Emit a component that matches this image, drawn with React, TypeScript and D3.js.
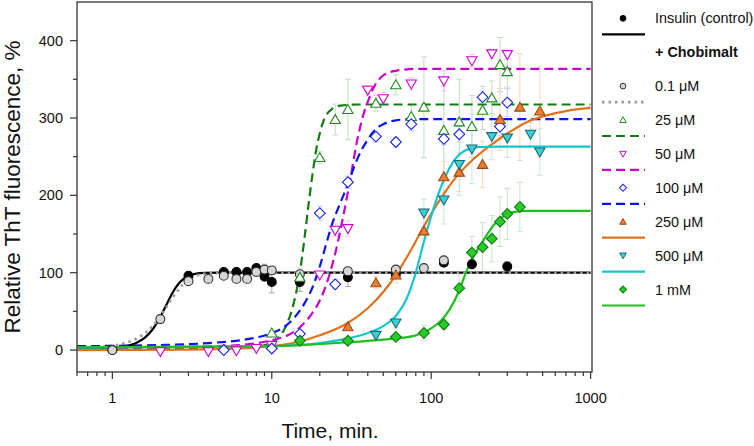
import React from 'react';
import * as d3 from 'd3';

// measured points: [time (min), ThT %, error]
const insulinPts = [
  [1, 0, 2], [3, 96, 3], [5, 101, 3], [6, 101, 4], [7, 101, 3], [8, 106, 4], [9, 95, 6],
  [10, 88, 14], [15, 88, 12], [30, 94, 12], [60, 98, 5], [120, 113, 5], [180, 111, 5], [300, 108, 6],
];
const c01Pts = [
  [1, 0, 2], [2, 40, 3], [3, 89, 3], [4, 92, 3], [5, 96, 3], [6, 92, 3], [7, 92, 3], [8, 101, 5],
  [9, 104, 7], [10, 103, 4], [15, 98, 5], [30, 102, 4], [60, 104, 5], [90, 106, 4], [120, 116, 4],
];
const c25Pts = [
  [10, 22, 3], [15, 94, 12], [20, 249, 8], [25, 298, 20], [30, 311, 39], [45, 319, 10], [60, 343, 13],
  [75, 302, 15], [90, 314, 65], [120, 284, 57], [150, 295, 55], [180, 289, 40], [210, 310, 25],
  [240, 326, 22], [270, 369, 35], [300, 360, 20],
];
const c50Pts = [
  [2, -2, 2], [4, -2, 2], [6, -1, 2], [8, 2, 2], [10, 6, 3], [20, 97, 5], [25, 155, 8], [30, 157, 10],
  [40, 336, 6], [50, 325, 8], [75, 344, 8], [120, 348, 13], [180, 374, 8], [240, 383, 6], [300, 382, 6],
];
const c100Pts = [
  [5, 0, 2], [10, 2, 3], [15, 21, 4], [20, 177, 9], [25, 85, 6], [30, 217, 8], [45, 276, 6],
  [60, 269, 6], [75, 292, 8], [120, 273, 8], [150, 279, 10], [210, 327, 14], [270, 289, 12], [300, 320, 18],
];
const c250Pts = [
  [30, 30, 4], [45, 87, 8], [60, 97, 10], [90, 154, 10], [120, 224, 20], [150, 230, 25],
  [210, 240, 30], [270, 298, 40], [360, 314, 69], [480, 309, 58],
];
const c500Pts = [
  [45, 19, 4], [60, 35, 6], [90, 177, 18], [120, 194, 31], [150, 240, 40], [180, 260, 45],
  [240, 276, 30], [300, 274, 25], [420, 279, 15], [480, 256, 30],
];
const c1000Pts = [
  [15, 12, 3], [30, 12, 3], [60, 17, 4], [90, 22, 10], [120, 33, 6], [150, 80, 17], [180, 126, 21],
  [210, 133, 32], [240, 144, 30], [270, 166, 32], [300, 176, 33], [360, 185, 32],
];

// fitted curves: [time, ThT %]
const insulinFit = [
  [0.6, 0.6], [1, 2.4], [1.2, 4.6], [1.4, 8.8], [1.6, 16], [1.8, 27.5], [2, 43], [2.2, 60], [2.4, 75],
  [2.6, 85.7], [2.8, 92], [3, 96], [3.3, 98.5], [3.8, 99.7], [5, 100], [1000, 100],
];
const c01Fit = [
  [0.6, 2.1], [1, 5.6], [1.2, 9], [1.4, 14.3], [1.6, 21.7], [1.8, 31.6], [2, 43.5], [2.2, 56.5],
  [2.4, 68.4], [2.6, 78], [2.8, 85.7], [3, 91], [3.3, 95.6], [3.6, 97.9], [4, 99.2], [5, 99.9], [1000, 100],
];
const c25Fit = [
  [0.6, 1.5], [5, 2], [8, 4], [10, 10], [11, 16], [12, 27], [13, 44], [14, 68], [15, 100], [16, 143],
  [17, 188], [18, 227], [19, 259], [20, 280], [21, 295], [22, 304], [24, 312], [27, 316], [35, 317.5], [1000, 317.5],
];
const c50Fit = [
  [0.6, 2.4], [5, 5.3], [10, 12.6], [15, 29.5], [18, 48], [20, 64], [22, 85], [24, 111], [26, 140],
  [28, 172], [30, 204], [32, 236], [34, 267], [36, 290], [38, 308], [40, 321], [44, 341], [50, 355],
  [60, 361], [80, 363.5], [1000, 363.5],
];
const c100Fit = [
  [0.6, 5], [2, 6.5], [4, 9], [7, 14], [10, 22], [12, 30], [14, 43], [16, 60], [18, 81], [20, 108],
  [22, 138], [24, 164], [27, 191], [30, 214], [33, 238], [36, 256], [40, 272], [44, 284], [50, 292],
  [60, 297], [75, 298.5], [1000, 298.5],
];
const c250Fit = [
  [0.6, 0], [3, 0.5], [7, 2.5], [10, 5], [15, 11], [20, 19], [30, 35], [40, 54], [50, 75], [60, 97],
  [75, 130], [90, 160], [110, 190], [140, 221], [180, 245], [240, 266], [300, 280], [400, 295],
  [500, 302], [700, 309], [1000, 313],
];
const c500Fit = [
  [0.6, 3], [10, 5], [20, 9], [30, 15], [40, 22], [50, 31], [60, 44], [70, 66], [80, 100], [90, 140],
  [100, 173], [110, 200], [125, 228], [140, 246], [160, 257], [200, 262.5], [260, 263], [1000, 263],
];
const c1000Fit = [
  [0.6, 3.5], [10, 5], [30, 10], [60, 15], [80, 19], [100, 28], [115, 38], [130, 52], [150, 77],
  [165, 100], [180, 117], [200, 133], [225, 150], [250, 163], [280, 172], [320, 178], [380, 180], [1000, 180],
];

const xMajor = [1, 10, 100, 1000];
const xMinor = [0.6, 0.7, 0.8, 0.9, 2, 3, 4, 5, 6, 7, 8, 9, 20, 30, 40, 50, 60, 70, 80, 90, 200, 300, 400, 500, 600, 700, 800, 900];
const yMajor = [0, 100, 200, 300, 400];
const yMinor = [50, 150, 250, 350];

const x = d3.scaleLog().domain([0.6, 1020]).range([77, 592]);
const y = d3.scaleLinear().domain([-28.4, 450]).range([372, 2]);

const FONT = '"Liberation Sans", Arial, Helvetica, sans-serif';

type Mark = 'dot' | 'circle' | 'tri' | 'itri' | 'diamond';

const series = [
  { label: 'Insulin (control)', pts: insulinPts, fit: insulinFit, mark: 'dot' as Mark, line: '#000', dash: undefined, width: 2.2, fill: '#000', stroke: '#000', err: '#aaa' },
  { label: '0.1 μM', pts: c01Pts, fit: c01Fit, mark: 'circle' as Mark, line: '#9a9a9a', dash: '2.5,4', width: 2.6, fill: '#d6d6d6', stroke: '#333', err: '#bbb' },
  { label: '25 μM', pts: c25Pts, fit: c25Fit, mark: 'tri' as Mark, line: '#147a14', dash: '9,5', width: 2.2, fill: '#fff', stroke: '#1d8a1d', err: '#c4dcc4' },
  { label: '50 μM', pts: c50Pts, fit: c50Fit, mark: 'itri' as Mark, line: '#cc00cc', dash: '9,5', width: 2.2, fill: '#fff', stroke: '#d000d0', err: '#f2c8f2' },
  { label: '100 μM', pts: c100Pts, fit: c100Fit, mark: 'diamond' as Mark, line: '#0a14f0', dash: '9,5', width: 2.2, fill: '#fff', stroke: '#1a22f0', err: '#c8ccf4' },
  { label: '250 μM', pts: c250Pts, fit: c250Fit, mark: 'tri' as Mark, line: '#e0721e', dash: undefined, width: 2.2, fill: '#ec7d2e', stroke: '#9a4a14', err: '#f5d8c2' },
  { label: '500 μM', pts: c500Pts, fit: c500Fit, mark: 'itri' as Mark, line: '#12c6cc', dash: undefined, width: 2.2, fill: '#3cd0d4', stroke: '#1b6a78', err: '#c6e4e4' },
  { label: '1 mM', pts: c1000Pts, fit: c1000Fit, mark: 'diamond' as Mark, line: '#1fbe1f', dash: undefined, width: 2.2, fill: '#28cc28', stroke: '#137a13', err: '#c6e4c6' },
];

function symbolPath(mark: Mark, scale: number) {
  if (mark === 'dot' || mark === 'circle') return d3.symbol().type(d3.symbolCircle).size(62 * scale)()!;
  if (mark === 'tri' || mark === 'itri') return d3.symbol().type(d3.symbolTriangle).size(46 * scale)()!;
  return d3.symbol().type(d3.symbolSquare).size(58 * scale)()!;
}
function symbolRotate(mark: Mark) {
  if (mark === 'itri') return 180;
  if (mark === 'diamond') return 45;
  return 0;
}
function symbolDy(mark: Mark, scale: number) {
  // centre triangles on the data point
  const s = Math.sqrt(scale);
  if (mark === 'tri') return 1 * s;
  if (mark === 'itri') return -1 * s;
  return 0;
}

const line = d3
  .line<number[]>()
  .x((d) => x(d[0]))
  .y((d) => y(d[1]))
  .curve(d3.curveMonotoneX);

export default function App() {
  const legendX = 623;
  const legendY0 = 18.3;
  const legendStep = 33.9;
  return (
    <svg width={754} height={446} style={{ position: 'absolute', left: 0, top: 0, background: '#fff' }} fontFamily={FONT}>
      <defs>
        <clipPath id="plot">
          <rect x={77} y={2} width={515} height={370} />
        </clipPath>
      </defs>

      {/* error bars */}
      <g clipPath="url(#plot)">
        {series.map((s) =>
          s.pts.map((p, i) => {
            const px = x(p[0]);
            const y1 = y(p[1] - p[2]);
            const y2 = y(p[1] + p[2]);
            return (
              <g key={s.label + 'e' + i} stroke={s.err} strokeWidth={1}>
                <line x1={px} x2={px} y1={y1} y2={y2} />
                <line x1={px - 3} x2={px + 3} y1={y1} y2={y1} />
                <line x1={px - 3} x2={px + 3} y1={y2} y2={y2} />
              </g>
            );
          }),
        )}
      </g>

      {/* fitted curves */}
      <g clipPath="url(#plot)" fill="none">
        {series.map((s) => (
          <path key={s.label + 'f'} d={line(s.fit)!} stroke={s.line} strokeWidth={s.width} strokeDasharray={s.dash} />
        ))}
      </g>

      {/* data points */}
      <g clipPath="url(#plot)">
        {series.map((s) =>
          s.pts.map((p, i) => (
            <path
              key={s.label + 'p' + i}
              d={symbolPath(s.mark, 1)}
              transform={`translate(${x(p[0])},${y(p[1]) + symbolDy(s.mark, 1)}) rotate(${symbolRotate(s.mark)})`}
              fill={s.fill}
              stroke={s.stroke}
              strokeWidth={1.1}
            />
          )),
        )}
      </g>

      {/* frame */}
      <rect x={77} y={2} width={515} height={370} fill="none" stroke="#333" strokeWidth={1.3} />

      {/* ticks */}
      <g stroke="#333" strokeWidth={1.2}>
        {xMajor.map((t) => (
          <line key={'xM' + t} x1={x(t)} x2={x(t)} y1={372} y2={379} />
        ))}
        {xMinor.map((t) => (
          <line key={'xm' + t} x1={x(t)} x2={x(t)} y1={372} y2={376} />
        ))}
        {yMajor.map((v) => (
          <line key={'yM' + v} x1={70} x2={77} y1={y(v)} y2={y(v)} />
        ))}
        {yMinor.map((v) => (
          <line key={'ym' + v} x1={73} x2={77} y1={y(v)} y2={y(v)} />
        ))}
      </g>
      <g fontSize={14.5} fill="#111">
        {xMajor.map((t) => (
          <text key={'xl' + t} x={x(t)} y={403} textAnchor="middle">
            {d3.format('d')(t)}
          </text>
        ))}
        {yMajor.map((v) => (
          <text key={'yl' + v} x={63} y={y(v) + 5} textAnchor="end">
            {v}
          </text>
        ))}
      </g>
      <text x={330} y={438} fontSize={21} textAnchor="middle" fill="#111">
        Time, min.
      </text>
      <text transform="translate(20,187) rotate(-90)" fontSize={22.5} textAnchor="middle" fill="#111">
        Relative ThT fluorescence, %
      </text>

      {/* legend */}
      <g fontSize={14.4} fill="#111">
        {series.map((s, i) => {
          const row = i === 0 ? 0 : i + 1;
          const my = legendY0 + legendStep * row;
          return (
            <g key={s.label + 'lg'}>
              <path
                d={symbolPath(s.mark, 0.42)}
                transform={`translate(${legendX},${my + symbolDy(s.mark, 0.42)}) rotate(${symbolRotate(s.mark)})`}
                fill={s.fill}
                stroke={s.stroke}
                strokeWidth={1}
              />
              <line x1={602} x2={645} y1={my + 16} y2={my + 16} stroke={s.line} strokeWidth={s.width} strokeDasharray={s.dash} />
              <text x={655} y={my + 5}>
                {s.label}
              </text>
            </g>
          );
        })}
        <text x={655} y={legendY0 + legendStep + 5} fontWeight="bold">
          + Chobimalt
        </text>
      </g>
    </svg>
  );
}
